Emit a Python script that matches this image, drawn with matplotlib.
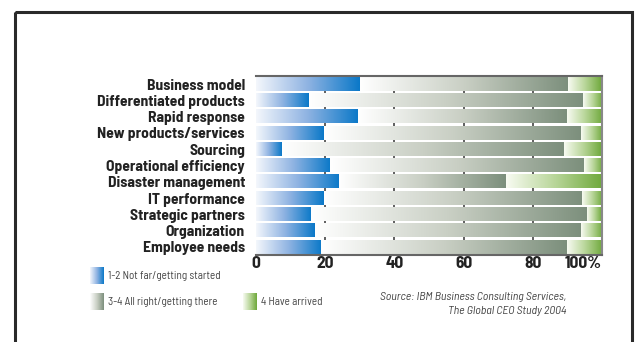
import numpy as np
import matplotlib
matplotlib.use("Agg")
import matplotlib.pyplot as plt
from matplotlib.colors import LinearSegmentedColormap
from matplotlib.patches import Rectangle

categories = ["Business model", "Differentiated products", "Rapid response",
              "New products/services", "Sourcing", "Operational efficiency",
              "Disaster management", "IT performance", "Strategic partners",
              "Organization", "Employee needs"]
not_far = [30.0, 15.3, 29.5, 19.6, 7.5, 21.4, 24.0, 19.6, 15.9, 17.0, 18.8]
all_right = [60.2, 79.2, 60.3, 74.3, 81.4, 73.3, 48.2, 74.6, 79.8, 76.9, 71.0]
arrived = [9.8, 5.5, 10.2, 6.1, 10.9, 5.3, 27.8, 5.8, 4.1, 6.1, 10.2]
xticks = [0, 20, 40, 60, 80, 100]
xticklabels = ["0", "20", "40", "60", "80", "100%"]
legend_labels = ["1-2 Not far/getting started", "3-4 All right/getting there", "4 Have arrived"]

plt.rcParams["font.family"] = ["Barlow Semi Condensed", "DejaVu Sans"]

cmaps = [
    LinearSegmentedColormap.from_list("blue", ["#f4f7fc", "#8fb3e2", "#0a78c8"]),
    LinearSegmentedColormap.from_list("gray", ["#ffffff", "#c9cfc4", "#7c8f7c"]),
    LinearSegmentedColormap.from_list("green", ["#f8fbf2", "#b9d69a", "#6ea83a"]),
]
grad = np.linspace(0, 1, 256).reshape(1, -1)

fig = plt.figure(figsize=(6.4, 3.42), dpi=100)
ax = fig.add_axes([0.4, 0.2544, 0.5406, 0.5234])

bar_h = 0.82
for i, cat in enumerate(categories):
    left = 0
    for seg, cm in zip((not_far[i], all_right[i], arrived[i]), cmaps):
        ax.imshow(grad, extent=[left, left + seg, i - bar_h / 2, i + bar_h / 2],
                  aspect="auto", cmap=cm, interpolation="bilinear", zorder=2)
        left += seg

for x in xticks[1:-1]:
    ax.axvline(x, color="#444444", lw=1.2, zorder=1)

ax.set_xlim(0, 100)
ax.set_ylim(10.5, -0.5)
ax.set_yticks(range(len(categories)))
ax.set_yticklabels(categories, fontsize=11.2, fontweight="bold", color="#222222")
ax.set_xticks(xticks)
ax.set_xticklabels(xticklabels, fontsize=12.5, fontweight="bold", color="#222222")
ax.get_xticklabels()[-1].set_horizontalalignment("right")
ax.get_xticklabels()[-1].set_x(101)
ax.tick_params(axis="both", length=0, pad=1)
ax.tick_params(axis="y", pad=8)
for s in ax.spines.values():
    s.set_color("#666666")
    s.set_linewidth(1.5)
ax.spines["left"].set_visible(False)
ax.spines["right"].set_color("#888888")

# legend swatches with gradients
lax = fig.add_axes([0, 0, 1, 1])
lax.set_xlim(0, 640)
lax.set_ylim(342, 0)
lax.axis("off")
swatches = [(90, 267), (90, 293), (243, 293)]
for (sx, sy), cm, lab in zip(swatches, cmaps, legend_labels):
    lax.imshow(grad, extent=[sx, sx + 14, sy + 17, sy], aspect="auto", cmap=cm,
               interpolation="bilinear")
    lax.text(sx + 18, sy + 9, lab, fontsize=8, color="#444444", va="center")

lax.text(566, 297, "Source: IBM Business Consulting Services,", fontsize=8.5,
         style="italic", color="#444444", ha="right", va="center")
lax.text(566, 311, "The Global CEO Study 2004", fontsize=8.5,
         style="italic", color="#444444", ha="right", va="center")

lax.add_patch(Rectangle((15, 12), 617, 340, fill=False, edgecolor="#2a2a2a", lw=2.2))
lax.set_xlim(0, 640)
lax.set_ylim(342, 0)

fig.savefig("out.png", dpi=100)
